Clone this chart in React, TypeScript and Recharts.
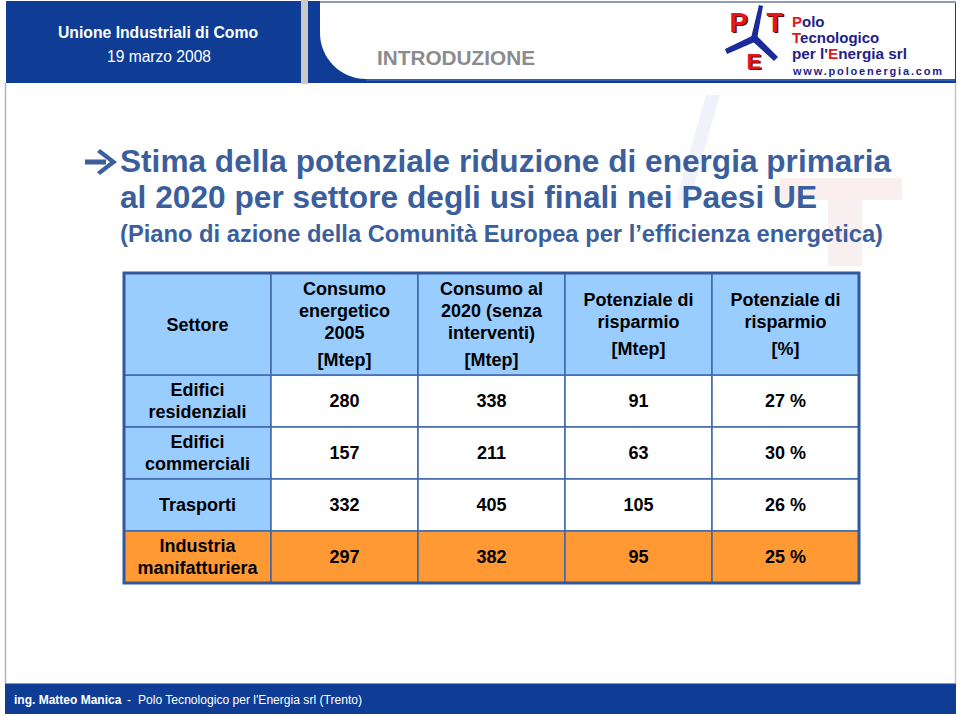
import { ScatterChart, Scatter, XAxis, YAxis } from "recharts";

// table content
const SECTORS = ["Edifici\nresidenziali", "Edifici\ncommerciali", "Trasporti", "Industria\nmanifatturiera"];
const CONSUMO_2005 = [280, 157, 332, 297];
const CONSUMO_2020 = [338, 211, 405, 382];
const RISPARMIO_MTEP = [91, 63, 105, 95];
const RISPARMIO_PCT = [27, 30, 26, 25];

const COLUMNS = ["settore", "c2005", "c2020", "rMtep", "rPct"];
const HEADER_LINES = [
  ["Settore"],
  ["Consumo", "energetico", "2005"],
  ["Consumo al", "2020 (senza", "interventi)"],
  ["Potenziale di", "risparmio"],
  ["Potenziale di", "risparmio"],
];
const HEADER_UNITS = ["", "[Mtep]", "[Mtep]", "[Mtep]", "[%]"];
const HIGHLIGHT_ROW = "Industria\nmanifatturiera";

const cells = SECTORS.flatMap((s, i) => [
  { col: COLUMNS[0], row: s, text: s },
  { col: COLUMNS[1], row: s, text: String(CONSUMO_2005[i]) },
  { col: COLUMNS[2], row: s, text: String(CONSUMO_2020[i]) },
  { col: COLUMNS[3], row: s, text: String(RISPARMIO_MTEP[i]) },
  { col: COLUMNS[4], row: s, text: `${RISPARMIO_PCT[i]} %` },
]);

const FONT = "'Liberation Sans', Arial, Helvetica, sans-serif";
const TITLE_BLUE = "#3a5f9c";
const NAVY = "#0f3d96";
const HEAD_FILL = "#99ccff";
const ORANGE = "#ff9933";
const GRID_LINE = "#3f67ab";
const FRAME = "#30589a";

const T_LEFT = 124;
const T_RIGHT = 859;
const T_TOP = 273;
const HEAD_H = 102;
const T_BOTTOM = 583;
const CELL_W = (T_RIGHT - T_LEFT) / COLUMNS.length;
const ROW_H = (T_BOTTOM - T_TOP - HEAD_H) / SECTORS.length;
const LINE_GAP = 22;

function HeaderTick({ x, payload }: any) {
  const idx = COLUMNS.indexOf(payload.value);
  const lines = HEADER_LINES[idx] || [];
  const unit = HEADER_UNITS[idx];
  const center = T_TOP + HEAD_H / 2 + 0.5;
  const span = unit ? (lines.length - 1) * LINE_GAP + 27 : (lines.length - 1) * LINE_GAP;
  const start = center - span / 2;
  return (
    <g>
      <rect
        x={x - CELL_W / 2}
        y={T_TOP}
        width={CELL_W}
        height={HEAD_H}
        fill={HEAD_FILL}
        stroke={GRID_LINE}
        strokeWidth={1.5}
      />
      {lines.map((l, k) => (
        <text
          key={k}
          x={x}
          y={start + k * LINE_GAP}
          textAnchor="middle"
          dominantBaseline="central"
          fontFamily={FONT}
          fontWeight="bold"
          fontSize={18}
          fill="#000"
        >
          {l}
        </text>
      ))}
      {unit && (
        <text
          x={x}
          y={start + span}
          textAnchor="middle"
          dominantBaseline="central"
          fontFamily={FONT}
          fontWeight="bold"
          fontSize={18}
          fill="#000"
        >
          {unit}
        </text>
      )}
    </g>
  );
}

function TableCell({ cx, cy, payload }: any) {
  if (cx == null || cy == null) return null;
  const lines = String(payload.text).split("\n");
  let fill = "#ffffff";
  if (payload.row === HIGHLIGHT_ROW) fill = ORANGE;
  else if (payload.col === COLUMNS[0]) fill = HEAD_FILL;
  const start = cy - ((lines.length - 1) * LINE_GAP) / 2;
  return (
    <g>
      <rect
        x={cx - CELL_W / 2}
        y={cy - ROW_H / 2}
        width={CELL_W}
        height={ROW_H}
        fill={fill}
        stroke={GRID_LINE}
        strokeWidth={1.5}
      />
      {lines.map((l, k) => (
        <text
          key={k}
          x={cx}
          y={start + k * LINE_GAP}
          textAnchor="middle"
          dominantBaseline="central"
          fontFamily={FONT}
          fontWeight="bold"
          fontSize={18}
          fill="#000"
        >
          {l}
        </text>
      ))}
    </g>
  );
}

function SlideBackground() {
  return (
    <svg width={960} height={716} style={{ position: "absolute", left: 0, top: 0 }}>
      <rect x={0} y={0} width={960} height={716} fill="#fff" />
      {/* faint watermark */}
      <rect x={780} y={178} width={122} height={22} fill="#fbeeee" />
      <rect x={828} y={200} width={34} height={66} fill="#f8f0f0" />
      <polygon points="706,95 720,95 690,200 676,200" fill="#f0f1fa" />

      {/* frame */}
      <line x1={5.5} y1={83} x2={5.5} y2={684} stroke="#b4b4b4" strokeWidth={1.5} />
      <line x1={955.5} y1={83} x2={955.5} y2={684} stroke="#c4c4c4" strokeWidth={1.5} />

      {/* header left */}
      <rect x={6} y={1} width={295} height={82} fill={NAVY} />
      <rect x={301} y={0} width={7} height={84} fill="#c9c9c9" />
      <text x={158} y={38} textAnchor="middle" fontFamily={FONT} fontWeight="bold" fontSize={16} fill="#fff" textLength={200} lengthAdjust="spacingAndGlyphs">
        Unione Industriali di Como
      </text>
      <text x={159} y={62} textAnchor="middle" fontFamily={FONT} fontSize={16} fill="#fff" textLength={104} lengthAdjust="spacingAndGlyphs">
        19 marzo 2008
      </text>

      {/* header right */}
      <rect x={308} y={1} width={648} height={82} fill={NAVY} />
      <path d="M320 3 H955 V79 H366 A46 46 0 0 1 320 33 Z" fill="#fff" />
      <line x1={320} y1={2} x2={956} y2={2} stroke="#bdbdbd" strokeWidth={1.5} />
      <line x1={366} y1={80} x2={955} y2={80} stroke="#5a7fc0" strokeWidth={1} />
      <text x={377} y={65} fontFamily={FONT} fontWeight="bold" fontSize={21} fill="#8c8c8c" textLength={158} lengthAdjust="spacingAndGlyphs">
        INTRODUZIONE
      </text>

      {/* logo */}
      <text x={731} y={33} fontFamily={FONT} fontWeight="bold" fontSize={27} fill="#5a0a0a">P</text>
      <text x={729.5} y={31.5} fontFamily={FONT} fontWeight="bold" fontSize={27} fill="#e3161d">P</text>
      <text x={768} y={33} fontFamily={FONT} fontWeight="bold" fontSize={27} fill="#5a0a0a">T</text>
      <text x={766.5} y={31.5} fontFamily={FONT} fontWeight="bold" fontSize={27} fill="#e3161d">T</text>
      <text x={748} y={70} fontFamily={FONT} fontWeight="bold" fontSize={22} fill="#5a0a0a">E</text>
      <text x={746.5} y={68.5} fontFamily={FONT} fontWeight="bold" fontSize={22} fill="#e3161d">E</text>
      <polygon points="751,38 759,5 763,6 757,39" fill="#1c2a9c" />
      <polygon points="754,35 725,49 727,54 757,41" fill="#1c2a9c" />
      <polygon points="756,35 778,57 774,61 751,40" fill="#1c2a9c" />
      <text x={792} y={27} fontFamily={FONT} fontWeight="bold" fontSize={15} fill="#1e2288">
        <tspan fill="#e3161d">P</tspan>olo
      </text>
      <text x={792} y={43} fontFamily={FONT} fontWeight="bold" fontSize={15} fill="#1e2288">
        <tspan fill="#e3161d">T</tspan>ecnologico
      </text>
      <text x={792} y={59} fontFamily={FONT} fontWeight="bold" fontSize={15} fill="#1e2288" textLength={115} lengthAdjust="spacingAndGlyphs">
        per l'<tspan fill="#e3161d">E</tspan>nergia srl
      </text>
      <text x={793} y={75} fontFamily={FONT} fontWeight="bold" fontSize={11} fill="#1e2288" textLength={149} lengthAdjust="spacing">
        www.poloenergia.com
      </text>

      {/* title */}
      <path d="M85 159.5 H106 V164.5 H85 Z" fill={TITLE_BLUE} />
      <polygon points="100,149 117,162 100,175 97,172 110,162 97,152" fill={TITLE_BLUE} />
      <text x={120} y={172} fontFamily={FONT} fontWeight="bold" fontSize={32} fill={TITLE_BLUE} textLength={771} lengthAdjust="spacingAndGlyphs">
        Stima della potenziale riduzione di energia primaria
      </text>
      <text x={120} y={208} fontFamily={FONT} fontWeight="bold" fontSize={32} fill={TITLE_BLUE} textLength={697} lengthAdjust="spacingAndGlyphs">
        al 2020 per settore degli usi finali nei Paesi UE
      </text>
      <text x={120} y={242} fontFamily={FONT} fontWeight="bold" fontSize={24} fill={TITLE_BLUE} textLength={763} lengthAdjust="spacingAndGlyphs">
        (Piano di azione della Comunità Europea per l’efficienza energetica)
      </text>

      {/* footer */}
      <rect x={5} y={683} width={951} height={31} fill={NAVY} />
      <line x1={5} y1={683.5} x2={956} y2={683.5} stroke="#7d9bd3" strokeWidth={1} />
      <text x={14} y={704} fontFamily={FONT} fontWeight="bold" fontSize={12} fill="#fff">
        ing. Matteo Manica
      </text>
      <text x={127} y={704} fontFamily={FONT} fontSize={12} fill="#fff">-</text>
      <text x={138} y={704} fontFamily={FONT} fontSize={12.5} fill="#fff" textLength={224} lengthAdjust="spacingAndGlyphs">
        Polo Tecnologico per l'Energia srl (Trento)
      </text>
    </svg>
  );
}

export default function App() {
  return (
    <div style={{ position: "absolute", left: 0, top: 0, width: 960, height: 716, overflow: "hidden", background: "#fff" }}>
      <SlideBackground />
      <div style={{ position: "absolute", left: 0, top: 0 }}>
        <ScatterChart
          width={960}
          height={716}
          margin={{ top: T_TOP, left: T_LEFT, right: 960 - T_RIGHT, bottom: 716 - T_BOTTOM }}
        >
          <XAxis
            dataKey="col"
            type="category"
            orientation="top"
            allowDuplicatedCategory={false}
            height={HEAD_H}
            axisLine={false}
            tickLine={false}
            interval={0}
            tick={<HeaderTick />}
          />
          <YAxis
            dataKey="row"
            type="category"
            allowDuplicatedCategory={false}
            reversed
            hide
          />
          <Scatter data={cells} shape={(p: any) => <TableCell {...p} />} isAnimationActive={false} />
        </ScatterChart>
      </div>
      <svg width={960} height={716} style={{ position: "absolute", left: 0, top: 0, pointerEvents: "none" }}>
        <rect
          x={T_LEFT}
          y={T_TOP}
          width={T_RIGHT - T_LEFT}
          height={T_BOTTOM - T_TOP}
          fill="none"
          stroke={FRAME}
          strokeWidth={3}
        />
      </svg>
    </div>
  );
}
